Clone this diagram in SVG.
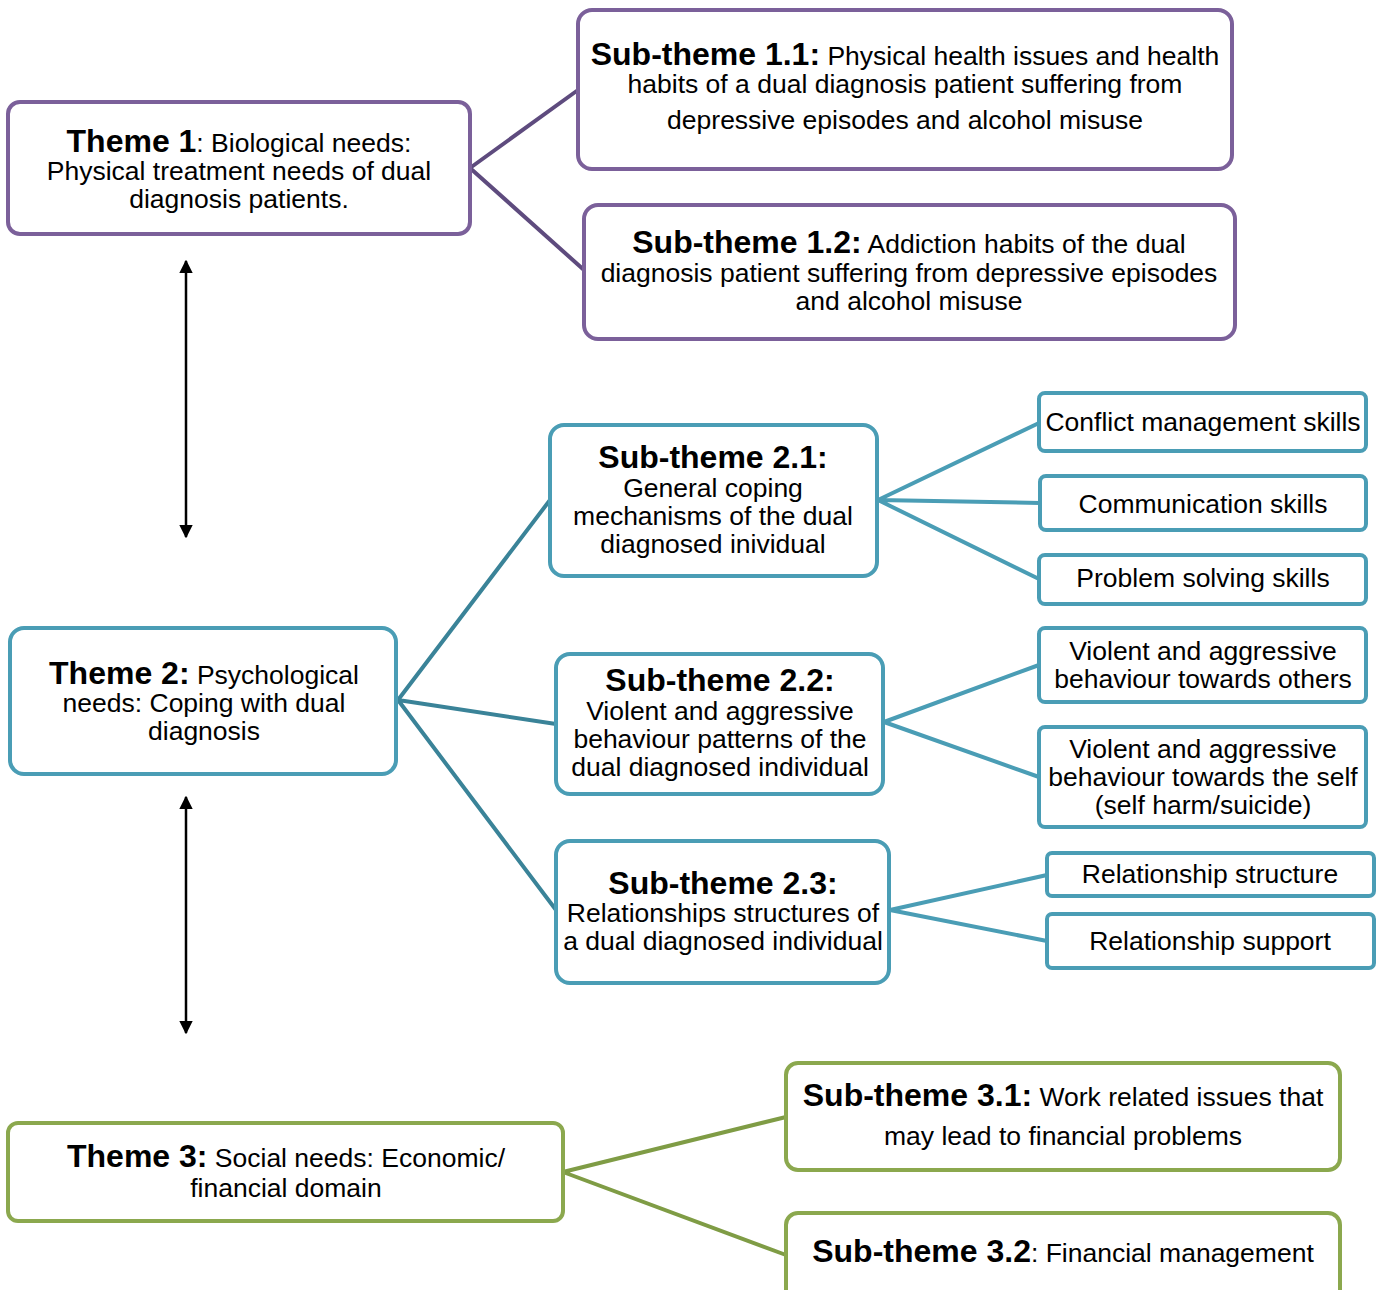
<svg xmlns="http://www.w3.org/2000/svg" width="1382" height="1290" viewBox="0 0 1382 1290">
<defs>
<style>
text{font-family:"Liberation Sans",Arial,sans-serif;font-size:26.5px;fill:#000;text-anchor:middle}
.b{font-weight:bold;font-size:32px}
.box{fill:#fff;stroke-width:4}
.p{stroke:#7b609a}
.t{stroke:#4a9db5}
.g{stroke:#8ba84e}
.c{fill:none;stroke-width:4}
</style>
<marker id="ah" viewBox="0 0 10 10" refX="9" refY="5" markerWidth="5.5" markerHeight="5.5" orient="auto-start-reverse" markerUnits="strokeWidth">
<path d="M0,0 L10,5 L0,10 z" fill="#000"/>
</marker>
</defs>
<rect width="1382" height="1290" fill="#fff"/>
<g id="connectors">
<path class="c" stroke="#5e4b7e" d="M470,168 L578,90 M470,168 L584,270"/>
<path class="c" stroke="#3a8398" d="M398,700 L550,500 M398,700 L556,724 M398,700 L556,910"/>
<path class="c" stroke="#4a9db5" d="M878,500 L1039,423 M878,500 L1040,503 M878,500 L1039,579"/>
<path class="c" stroke="#4a9db5" d="M884,722 L1039,665 M884,722 L1039,777"/>
<path class="c" stroke="#4a9db5" d="M890,910 L1047,875 M890,910 L1047,941"/>
<path class="c" stroke="#7f9c45" d="M563,1172 L786,1117 M563,1172 L786,1255"/>
<line x1="186" y1="261" x2="186" y2="537" stroke="#000" stroke-width="2.5" marker-start="url(#ah)" marker-end="url(#ah)"/>
<line x1="186" y1="797" x2="186" y2="1033" stroke="#000" stroke-width="2.5" marker-start="url(#ah)" marker-end="url(#ah)"/>
</g>
<g id="theme1">
<rect class="box p" x="8" y="102" width="462" height="132" rx="12"/>
<text x="239" y="152"><tspan class="b">Theme 1</tspan>: Biological needs:</text>
<text x="239" y="180">Physical treatment needs of dual</text>
<text x="239" y="208">diagnosis patients.</text>
</g>
<g id="sub11">
<rect class="box p" x="578" y="10" width="654" height="159" rx="14"/>
<text x="905" y="65"><tspan class="b">Sub-theme 1.1:</tspan> Physical health issues and health</text>
<text x="905" y="93">habits of a dual diagnosis patient suffering from</text>
<text x="905" y="129">depressive episodes and alcohol misuse</text>
</g>
<g id="sub12">
<rect class="box p" x="584" y="205" width="651" height="134" rx="14"/>
<text x="909" y="253"><tspan class="b">Sub-theme 1.2:</tspan> Addiction habits of the dual</text>
<text x="909" y="282">diagnosis patient suffering from depressive episodes</text>
<text x="909" y="310">and alcohol misuse</text>
</g>
<g id="theme2">
<rect class="box t" x="10" y="628" width="386" height="146" rx="14"/>
<text x="204" y="684"><tspan class="b">Theme 2:</tspan> Psychological</text>
<text x="204" y="712">needs: Coping with dual</text>
<text x="204" y="740">diagnosis</text>
</g>
<g id="sub21">
<rect class="box t" x="550" y="425" width="327" height="151" rx="14"/>
<text x="713" y="468" class="b">Sub-theme 2.1:</text>
<text x="713" y="497">General coping</text>
<text x="713" y="525">mechanisms of the dual</text>
<text x="713" y="553">diagnosed inividual</text>
</g>
<g id="leaf-conflict">
<rect class="box t" x="1039" y="393" width="327" height="58" rx="6"/>
<text x="1203" y="431">Conflict management skills</text>
</g>
<g id="leaf-communication">
<rect class="box t" x="1040" y="476" width="326" height="54" rx="6"/>
<text x="1203" y="513">Communication skills</text>
</g>
<g id="leaf-problem">
<rect class="box t" x="1039" y="555" width="327" height="49" rx="6"/>
<text x="1203" y="587">Problem solving skills</text>
</g>
<g id="sub22">
<rect class="box t" x="556" y="654" width="327" height="140" rx="14"/>
<text x="720" y="691" class="b">Sub-theme 2.2:</text>
<text x="720" y="720">Violent and aggressive</text>
<text x="720" y="748">behaviour patterns of the</text>
<text x="720" y="776">dual diagnosed individual</text>
</g>
<g id="leaf-others">
<rect class="box t" x="1039" y="628" width="327" height="74" rx="6"/>
<text x="1203" y="660">Violent and aggressive</text>
<text x="1203" y="688">behaviour towards others</text>
</g>
<g id="leaf-self">
<rect class="box t" x="1039" y="727" width="327" height="100" rx="6"/>
<text x="1203" y="758">Violent and aggressive</text>
<text x="1203" y="786">behaviour towards the self</text>
<text x="1203" y="814">(self harm/suicide)</text>
</g>
<g id="sub23">
<rect class="box t" x="556" y="841" width="333" height="142" rx="14"/>
<text x="723" y="894" class="b">Sub-theme 2.3:</text>
<text x="723" y="922">Relationships structures of</text>
<text x="723" y="950">a dual diagnosed individual</text>
</g>
<g id="leaf-structure">
<rect class="box t" x="1047" y="853" width="327" height="43" rx="5"/>
<text x="1210" y="883">Relationship structure</text>
</g>
<g id="leaf-support">
<rect class="box t" x="1047" y="914" width="327" height="54" rx="5"/>
<text x="1210" y="950">Relationship support</text>
</g>
<g id="theme3">
<rect class="box g" x="8" y="1123" width="555" height="98" rx="10"/>
<text x="286" y="1167"><tspan class="b">Theme 3:</tspan> Social needs: Economic/</text>
<text x="286" y="1197">financial domain</text>
</g>
<g id="sub31">
<rect class="box g" x="786" y="1063" width="554" height="107" rx="12"/>
<text x="1063" y="1106"><tspan class="b">Sub-theme 3.1:</tspan> Work related issues that</text>
<text x="1063" y="1145">may lead to financial problems</text>
</g>
<g id="sub32">
<rect class="box g" x="786" y="1213" width="554" height="100" rx="12"/>
<text x="1063" y="1262"><tspan class="b">Sub-theme 3.2</tspan>: Financial management</text>
</g>
</svg>
